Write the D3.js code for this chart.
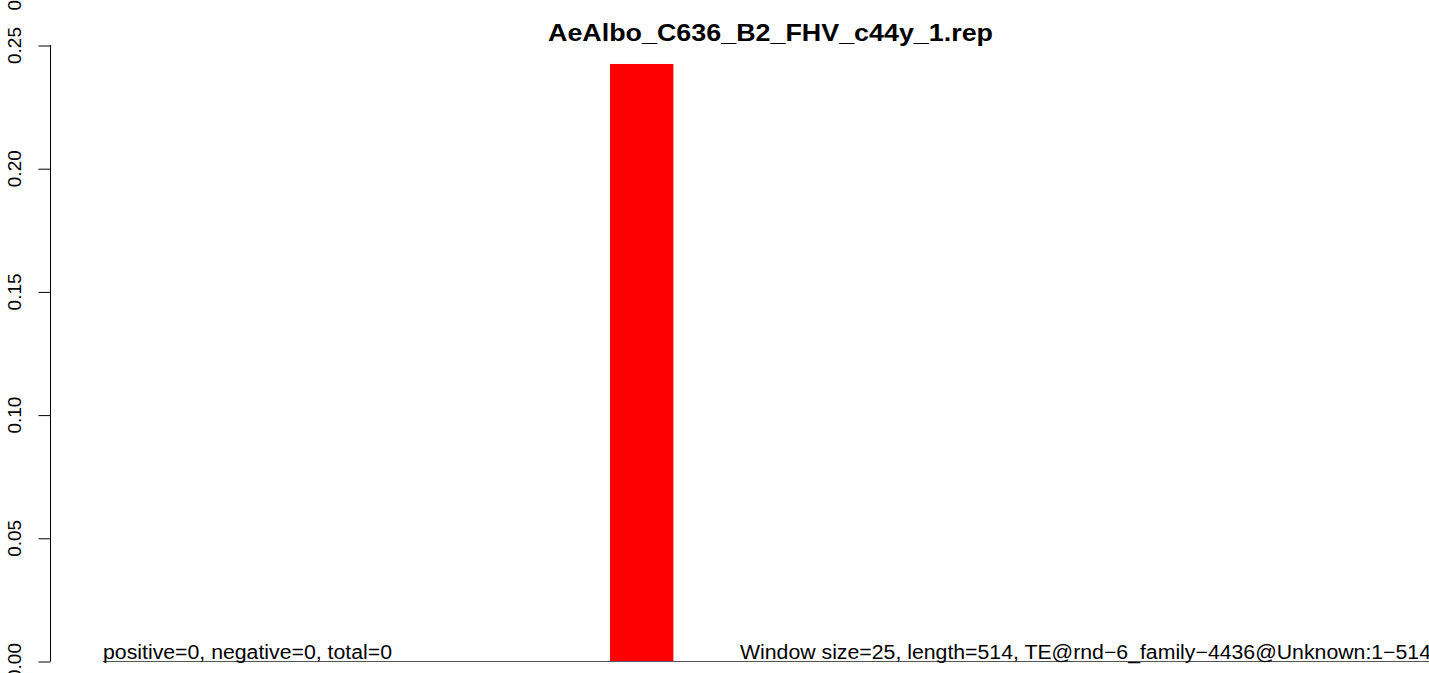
<!DOCTYPE html>
<html><head><meta charset="utf-8">
<script src="https://cdn.jsdelivr.net/npm/d3@7"></script>
<style>html,body{margin:0;padding:0;background:#fff;overflow:hidden}</style>
</head><body>
<svg id="c" width="1429" height="673"></svg>
<script>
const title = "AeAlbo_C636_B2_FHV_c44y_1.rep";
const windowStarts = [0,25,50,75,100,125,150,175,200,225,250,275,300,325,350,375,400,425,450,475,500];
const values =       [0,0,0,0,0,0,0,0,0.2423,0,0,0,0,0,0,0,0,0,0,0,0];
const windowSize = 25;
const seqLength = 514;
const yTicks = [0,0.05,0.10,0.15,0.20,0.25];
const yTickLabels = ["0.00","0.05","0.10","0.15","0.20","0.25"];
const leftNote = "positive=0, negative=0, total=0";
const rightNote = "Window size=25, length=514, TE@rnd\u22126_family\u22124436@Unknown:1\u2212514";

const svg = d3.select("#c");
const font = "'Liberation Sans', Arial, sans-serif";
const x = d3.scaleLinear().domain([0, seqLength]).range([103, 1406]);
const y = d3.scaleLinear().domain([0, 0.25]).range([661, 45]);

// bars
svg.append("g").selectAll("rect").data(values.map((v,i)=>({s:windowStarts[i], v})).filter(d=>d.v>0))
  .join("rect")
  .attr("x", d=>x(d.s)).attr("width", d=>x(d.s+windowSize)-x(d.s))
  .attr("y", d=>y(d.v)).attr("height", d=>y(0)-y(d.v))
  .attr("fill", "#ff0000");

// baseline
svg.append("line").attr("x1", x(0)).attr("x2", 1429).attr("y1", y(0)+0.5).attr("y2", y(0)+0.5)
  .attr("stroke", "#555").attr("stroke-width", 1);

// y axis
const ax = svg.append("g").attr("transform", "translate(50,0)")
  .call(d3.axisLeft(y).tickValues(yTicks).tickFormat((d,i)=>yTickLabels[i]).tickSize(12).tickPadding(0));
ax.select(".domain").attr("d", `M0.5,${y(0.25)}V${y(0)+0.5}`).attr("stroke","#000").attr("fill","none");
ax.selectAll(".tick line").attr("stroke","#000").attr("transform","translate(0.5,0.5)");
ax.selectAll(".tick text").attr("transform","translate(-36,0) rotate(-90)").attr("x",0).attr("y",0)
  .attr("dy","0.36em").attr("text-anchor","middle")
  .attr("font-family", font).attr("font-size","19px").attr("fill","#000")
  .attr("textLength", 37).attr("lengthAdjust","spacingAndGlyphs");
// clipped leftover label at top
svg.append("text").attr("transform","translate(14,10.5) rotate(-90)").attr("dy","0.36em")
  .attr("text-anchor","start").attr("font-family",font).attr("font-size","19px").text("0");

// title
svg.append("text").attr("x",770.5).attr("y",40.5).attr("text-anchor","middle")
  .attr("font-family",font).attr("font-weight","bold").attr("font-size","23px")
  .attr("textLength",445).attr("lengthAdjust","spacingAndGlyphs").text(title);

// notes
svg.append("text").attr("x",x(0)).attr("y",658.5).attr("font-family",font).attr("font-size","20px")
  .attr("textLength",289).attr("lengthAdjust","spacingAndGlyphs").text(leftNote);
svg.append("text").attr("x",740).attr("y",658.5).attr("font-family",font).attr("font-size","20px")
  .attr("textLength",691).attr("lengthAdjust","spacingAndGlyphs").text(rightNote);
</script>
</body></html>
